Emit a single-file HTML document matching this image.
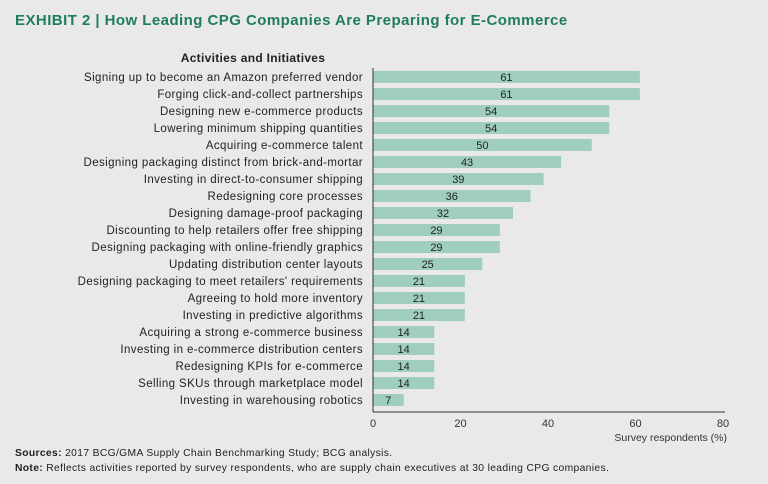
<!DOCTYPE html>
<html><head><meta charset="utf-8"><style>
body{margin:0;background:#e9e9eb;}
svg{display:block;font-family:"Liberation Sans",sans-serif;}
</style></head><body>
<svg width="768" height="484">
<rect width="768" height="484" fill="#e9e9eb"/>
<text x="15" y="25" font-size="15" font-weight="bold" fill="#1f7d5c" letter-spacing="0.45">EXHIBIT 2 | How Leading CPG Companies Are Preparing for E-Commerce</text>
<text x="253" y="62" font-size="12" font-weight="bold" fill="#222" text-anchor="middle" letter-spacing="0.3">Activities and Initiatives</text>
<g id="bars"></g>
<g id="axes"></g>
<text x="727" y="441" font-size="10.5" fill="#333" text-anchor="end">Survey respondents (%)</text>
<text x="15" y="456" font-size="10.3" fill="#222" letter-spacing="0.35"><tspan font-weight="bold">Sources:</tspan> 2017 BCG/GMA Supply Chain Benchmarking Study; BCG analysis.</text>
<text x="15" y="471" font-size="10.3" fill="#222" letter-spacing="0.35"><tspan font-weight="bold">Note:</tspan> Reflects activities reported by survey respondents, who are supply chain executives at 30 leading CPG companies.</text>
</svg>
<script>
const categories=["Signing up to become an Amazon preferred vendor","Forging click-and-collect partnerships","Designing new e-commerce products","Lowering minimum shipping quantities","Acquiring e-commerce talent","Designing packaging distinct from brick-and-mortar","Investing in direct-to-consumer shipping","Redesigning core processes","Designing damage-proof packaging","Discounting to help retailers offer free shipping","Designing packaging with online-friendly graphics","Updating distribution center layouts","Designing packaging to meet retailers' requirements","Agreeing to hold more inventory","Investing in predictive algorithms","Acquiring a strong e-commerce business","Investing in e-commerce distribution centers","Redesigning KPIs for e-commerce","Selling SKUs through marketplace model","Investing in warehousing robotics"];
const values=[61,61,54,54,50,43,39,36,32,29,29,25,21,21,21,14,14,14,14,7];
const ticks=[0,20,40,60,80];
const NS="http://www.w3.org/2000/svg";
const x0=373,x1=723,xmax=80,yTop=77,step=17,bh=12,axisY=412;
const xs=v=>x0+(x1-x0)*v/xmax;
const ys=i=>yTop+i*step;
function mk(t,a,p){const e=document.createElementNS(NS,t);for(const k in a)e.setAttribute(k,a[k]);p.appendChild(e);return e;}
const g=document.getElementById('bars'),ax=document.getElementById('axes');
categories.forEach((c,i)=>{
 const r=mk('rect',{x:x0,y:ys(i)-bh/2,width:xs(values[i])-x0,height:bh,fill:'#9fcfbc'},g);
 
 
 const v=mk('text',{x:(x0+xs(values[i]))/2,y:ys(i)+4,'font-size':11,fill:'#222','text-anchor':'middle'},g);
 v.textContent=values[i];
 
 
 const l=mk('text',{x:x0-10,y:ys(i)+4,'font-size':11.5,'letter-spacing':0.4,fill:'#222','text-anchor':'end'},g);
 l.textContent=c;
 
 
});
const yl=mk('line',{x1:x0,x2:x0,y1:68,y2:axisY,stroke:'#333','stroke-width':1},ax);


const xl=mk('line',{x1:x0,x2:x1+2,y1:axisY,y2:axisY,stroke:'#333','stroke-width':1},ax);


ticks.forEach(t=>{
 const e=mk('text',{x:xs(t),y:427,'font-size':11,fill:'#333','text-anchor':'middle'},ax);
 e.textContent=t;
 
 
});
</script>
</body></html>
